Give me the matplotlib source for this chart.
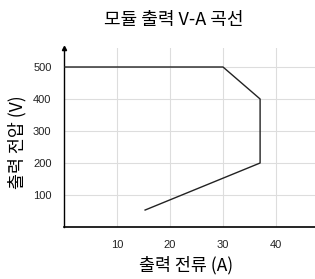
import matplotlib
matplotlib.use("Agg")
import matplotlib.pyplot as plt

plt.rcParams['font.family'] = ['Noto Sans CJK KR', 'DejaVu Sans']

current = [0, 30, 37, 37, 15.3]
voltage = [500, 500, 400, 200, 53]
xticks = [10, 20, 30, 40]
yticks = [100, 200, 300, 400, 500]

W, H = 315, 279
fig = plt.figure(figsize=(W/100, H/100), dpi=100)
ax = fig.add_axes([64/W, 1-227/H, (W-64)/W, (227-48)/H])
ax.set_xlim(0, (W-64)/5.3)
ax.set_ylim(0, (227-48)/0.32)
ax.plot(current, voltage, color='#222222', lw=1.0, zorder=3)
ax.set_xticks(xticks)
ax.set_yticks(yticks)
ax.grid(True, color='#dddddd', lw=0.8)
ax.set_axisbelow(True)
ax.tick_params(length=0, colors='#222222', pad=9)
for lab in ax.get_xticklabels() + ax.get_yticklabels():
    lab.set_family(['Liberation Sans'])
    lab.set_fontsize(8)
for s in ['top', 'right']:
    ax.spines[s].set_visible(False)
ax.spines['left'].set_color('black')
ax.spines['bottom'].set_color('black')
ax.spines['left'].set_linewidth(1.0)
ax.spines['bottom'].set_linewidth(1.2)
ax.plot(0, 1, marker='^', color='black', markersize=3, transform=ax.transAxes, clip_on=False)
fig.text(186/W, 1-265/H, '출력 전류 (A)', ha='center', va='center', fontsize=12.5)
fig.text(17/W, 1-142/H, '출력 전압 (V)', ha='center', va='center', fontsize=12.5, rotation=90)
fig.text(174/W, 1-20/H, '모듈 출력 V-A 곡선', ha='center', va='center', fontsize=13)
fig.savefig('out.png', dpi=100)
